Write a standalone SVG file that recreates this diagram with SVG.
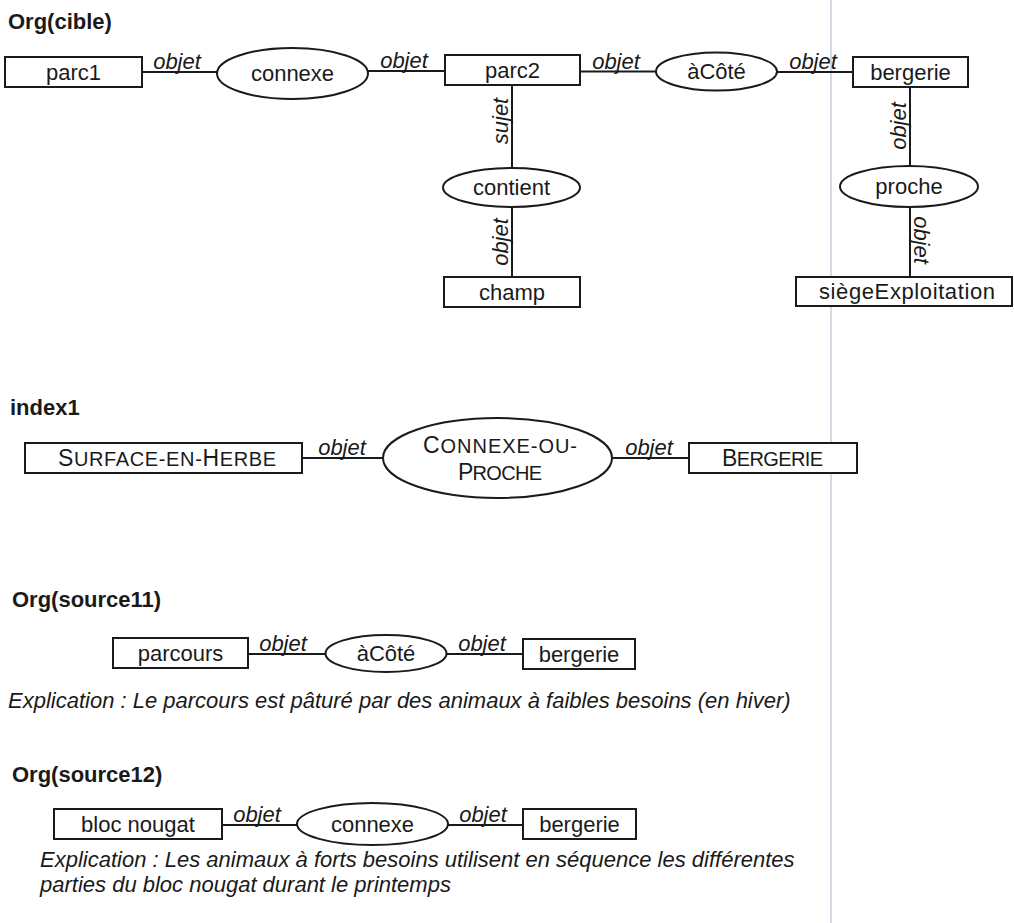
<svg xmlns="http://www.w3.org/2000/svg" width="1014" height="923" viewBox="0 0 1014 923">
<style>
text{font-family:"Liberation Sans",Arial,Helvetica,sans-serif;font-size:22px;fill:#1a1a1a}
.h{font-weight:bold}
.n{text-anchor:middle}
.l{font-style:italic;text-anchor:middle}
.e{font-style:italic}
.big{font-size:23px}
.sc{font-size:20px}
.box{fill:#fff;stroke:#1a1a1a;stroke-width:2}
.rel{fill:#fff;stroke:#1a1a1a;stroke-width:2}
.c line{stroke:#1a1a1a;stroke-width:2}
</style>
<rect width="1014" height="923" fill="#fff"/>
<line x1="831" y1="0" x2="831" y2="923" stroke="#c3d0df" stroke-width="1.5"/>

<text class="h" x="8" y="29">Org(cible)</text>
<text class="h" x="10" y="415">index1</text>
<text class="h" x="12" y="607">Org(source11)</text>
<text class="h" x="12" y="782">Org(source12)</text>

<g class="c" id="connectors">
<line x1="142" y1="72" x2="218" y2="72"/>
<line x1="367" y1="71" x2="445" y2="71"/>
<line x1="580" y1="71.5" x2="657" y2="71.5"/>
<line x1="776" y1="72" x2="853" y2="72"/>
<line x1="512" y1="85" x2="512" y2="168"/>
<line x1="512" y1="207" x2="512" y2="277"/>
<line x1="910" y1="87" x2="910" y2="166"/>
<line x1="910" y1="207" x2="910" y2="277"/>
<line x1="302" y1="458" x2="384" y2="458"/>
<line x1="611" y1="458" x2="689" y2="458"/>
<line x1="248" y1="654" x2="326" y2="654"/>
<line x1="446" y1="654" x2="523" y2="654"/>
<line x1="222" y1="825" x2="298" y2="825"/>
<line x1="447" y1="825" x2="523" y2="825"/>
<text class="l" x="177" y="69">objet</text>
<text class="l" x="404" y="68">objet</text>
<text class="l" x="616" y="68.5">objet</text>
<text class="l" x="813" y="69">objet</text>
<text class="l" transform="translate(508 121) rotate(-90)">sujet</text>
<text class="l" transform="translate(508 242) rotate(-90)">objet</text>
<text class="l" transform="translate(906 126) rotate(-90)">objet</text>
<text class="l" transform="translate(914 240) rotate(90)">objet</text>
<text class="l" x="342" y="455">objet</text>
<text class="l" x="649" y="455">objet</text>
<text class="l" x="283" y="651">objet</text>
<text class="l" x="482" y="651">objet</text>
<text class="l" x="257" y="822">objet</text>
<text class="l" x="483" y="822">objet</text>
</g>

<g id="parc1"><rect class="box" x="5" y="57" width="137" height="30"/><text class="n" x="73.5" y="80">parc1</text></g>
<g id="connexe1"><ellipse class="rel" cx="292.5" cy="73.5" rx="75.5" ry="25.5"/><text class="n" x="292.5" y="81">connexe</text></g>
<g id="parc2"><rect class="box" x="445" y="55" width="135" height="30"/><text class="n" x="512.5" y="78">parc2</text></g>
<g id="acote1"><ellipse class="rel" cx="716.5" cy="71.5" rx="60.5" ry="19"/><text class="n" x="716.5" y="79">àCôté</text></g>
<g id="bergerie1"><rect class="box" x="853" y="57" width="115" height="30"/><text class="n" x="910.5" y="80">bergerie</text></g>
<g id="contient"><ellipse class="rel" cx="511.5" cy="187.5" rx="68.5" ry="19.5"/><text class="n" x="511.5" y="195">contient</text></g>
<g id="champ"><rect class="box" x="444" y="277" width="136" height="30"/><text class="n" x="512" y="300">champ</text></g>
<g id="proche"><ellipse class="rel" cx="909" cy="186.5" rx="69" ry="20.5"/><text class="n" x="909" y="194">proche</text></g>
<g id="siegeExploitation"><rect class="box" x="796" y="277" width="216" height="29"/><text class="n" x="907" y="299" textLength="176" lengthAdjust="spacing">siègeExploitation</text></g>

<g id="surface"><rect class="box" x="25" y="443" width="277" height="30"/><text class="n" x="167" y="466" textLength="218" lengthAdjust="spacing"><tspan class="big">S</tspan><tspan class="sc">URFACE-EN-</tspan><tspan class="big">H</tspan><tspan class="sc">ERBE</tspan></text></g>
<g id="connexeOuProche"><ellipse class="rel" cx="497.5" cy="458" rx="114.5" ry="40"/><text class="n" x="500" y="453" textLength="154" lengthAdjust="spacing"><tspan class="big">C</tspan><tspan class="sc">ONNEXE-OU-</tspan></text><text class="n" x="500" y="480" textLength="84" lengthAdjust="spacing"><tspan class="big">P</tspan><tspan class="sc">ROCHE</tspan></text></g>
<g id="BERGERIE"><rect class="box" x="689" y="443" width="168" height="30"/><text class="n" x="772.5" y="466" textLength="101" lengthAdjust="spacing"><tspan class="big">B</tspan><tspan class="sc">ERGERIE</tspan></text></g>

<g id="parcours"><rect class="box" x="113" y="638" width="135" height="30"/><text class="n" x="180.5" y="661">parcours</text></g>
<g id="acote2"><ellipse class="rel" cx="386" cy="653.5" rx="60.5" ry="18.5"/><text class="n" x="386" y="661">àCôté</text></g>
<g id="bergerie2"><rect class="box" x="523" y="639" width="112" height="30"/><text class="n" x="579" y="662">bergerie</text></g>
<text class="e" x="8" y="708">Explication : Le parcours est pâturé par des animaux à faibles besoins (en hiver)</text>

<g id="blocNougat"><rect class="box" x="54" y="809" width="168" height="30"/><text class="n" x="138" y="832">bloc nougat</text></g>
<g id="connexe2"><ellipse class="rel" cx="372.5" cy="824" rx="75.5" ry="21"/><text class="n" x="372.5" y="832">connexe</text></g>
<g id="bergerie3"><rect class="box" x="523" y="809" width="113" height="30"/><text class="n" x="579.5" y="832">bergerie</text></g>
<text class="e" x="40" y="867">Explication : Les animaux à forts besoins utilisent en séquence les différentes</text>
<text class="e" x="40" y="892">parties du bloc nougat durant le printemps</text>
</svg>
